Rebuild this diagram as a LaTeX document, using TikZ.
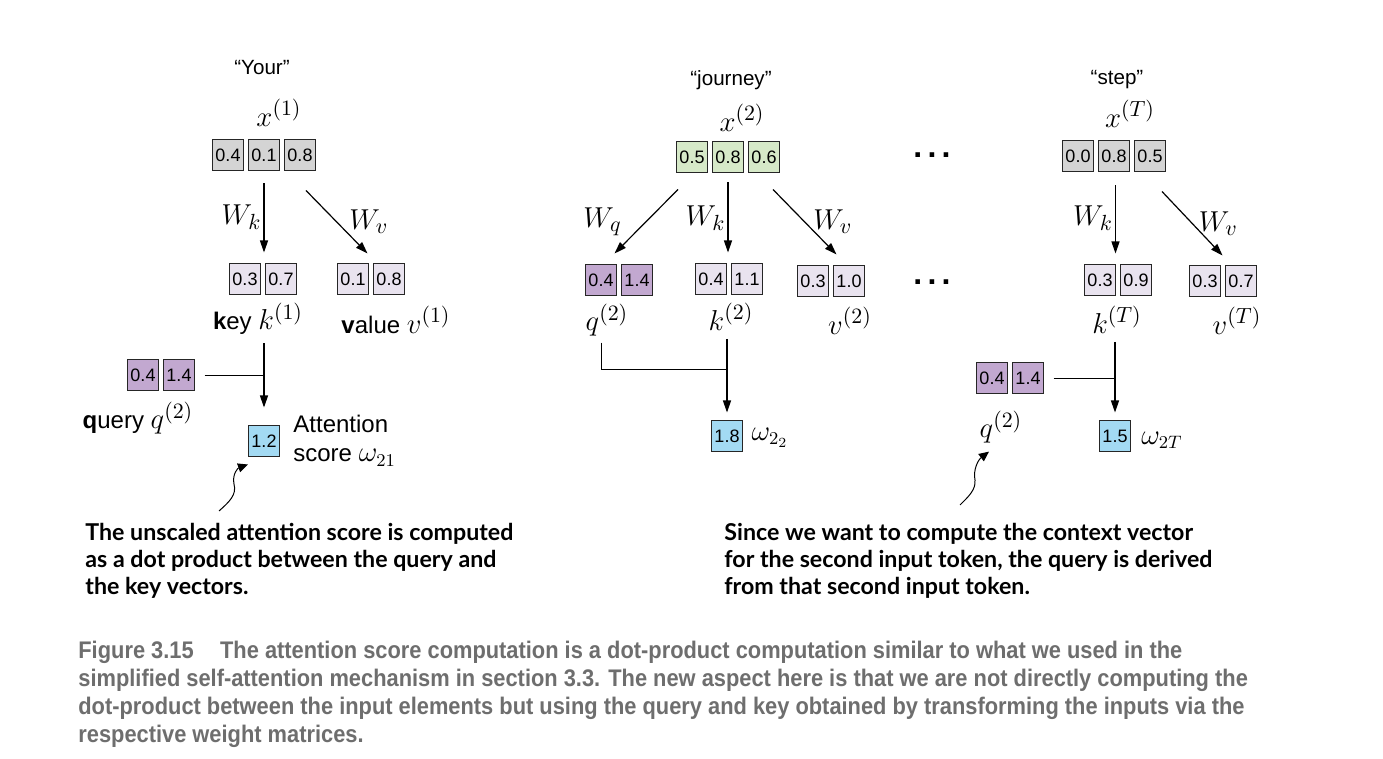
\documentclass[tikz,border=0pt]{standalone}
\usepackage{fontspec}
\setmainfont{Liberation Sans}
\newfontfamily\notefont{Lato}
\newfontfamily\capfont[FakeStretch=0.91]{Liberation Sans}
\usetikzlibrary{arrows.meta,positioning,calc}

\definecolor{cellgray}{HTML}{D4D4D4}
\definecolor{celllav}{HTML}{E9E3EF}
\definecolor{cellpurp}{HTML}{C2A8D0}
\definecolor{cellgreen}{HTML}{D6E9C8}
\definecolor{cellblue}{HTML}{A3DAF3}
\definecolor{capgray}{HTML}{6E6E6E}

\newcommand{\mlab}[1]{{\fontsize{15}{18}\selectfont$#1$}}

\begin{document}
\begin{tikzpicture}[x=0.5pt, y=-0.5pt,
    cell/.style={draw=black!85, line width=0.6pt, minimum width=15.5pt, minimum height=15.5pt, inner sep=0pt, outer sep=0pt, font=\fontsize{9}{10}\selectfont},
    inbox/.style={cell, fill=cellgray},
    wordbox/.style={cell, fill=cellgreen},
    keybox/.style={cell, fill=celllav},
    qbox/.style={cell, fill=cellpurp},
    scorebox/.style={cell, fill=cellblue},
    arr/.style={-{Triangle[length=6pt,width=4pt]}, line width=0.6pt},
    curl/.style={-{Triangle[length=5pt,width=4.5pt]}, line width=0.5pt},
    word/.style={font=\fontsize{10.3}{12}\selectfont, inner sep=0pt},
    lbl/.style={font=\fontsize{12}{14}\selectfont, inner sep=0pt},
    mlbl/.style={font=\fontsize{15}{18}\selectfont, inner sep=0pt},
    wlbl/.style={font=\fontsize{13.5}{16}\selectfont, inner sep=0pt},
    dots/.style={font=\bfseries\fontsize{16}{18}\selectfont, inner sep=0pt},
    note/.style={font=\notefont\bfseries\fontsize{11.6}{13.5}\selectfont, align=left, anchor=north west, inner sep=0pt},
    ]
\fill[white] (0,0) rectangle (1383,759);
\useasboundingbox (0,0) rectangle (1383,759);

% ---- token 1: "Your"
\node[word] (tok1) at (262,68) {“Your”};
\node[mlbl] (x1l) at (279,113) {$x^{(1)}$};
\node[inbox] (x1a) at (228,155) {0.4};
\node[inbox, right=2.5pt of x1a] (x1b) {0.1};
\node[inbox, right=2.5pt of x1b] (x1c) {0.8};
\node[keybox] (k1a) at (245,279) {0.3};
\node[keybox, right=2.5pt of k1a] (k1b) {0.7};
\node[keybox] (v1a) at (353,279) {0.1};
\node[keybox, right=2.5pt of v1a] (v1b) {0.8};
\node[lbl] (k1l) at (258,319) {\textbf{k}ey \mlab{k^{(1)}}};
\node[lbl] (v1l) at (396,320) {\textbf{v}alue \mlab{v^{(1)}}};
\node[qbox] (q1a) at (143,375) {0.4};
\node[qbox, right=2.5pt of q1a] (q1b) {1.4};
\node[lbl] (q1l) at (138,418) {\textbf{q}uery \mlab{q^{(2)}}};
\node[scorebox] (s1) at (264,441) {1.2};
\node[lbl, align=left, anchor=north west] (s1l) at (293,415) {Attention\\[0.5pt]score {\fontsize{13.5}{16}\selectfont$\omega_{21}$}};
\draw[arr, shorten <=6.5pt, shorten >=5.5pt] (x1b.south) -- (x1b.south |- k1a.north)
    node[midway, left=1pt, mlbl] (w1k) {$W_k$};
\draw[arr] ($(x1c.south)+(6,20)$) -- ($(v1a.north east)+(-1,-10)$)
    node[midway, right=6pt, mlbl] (w1v) {$W_v$};
\coordinate (j1) at (s1.north |- q1b.east);
\draw[shorten <=5pt] (q1b.east) -- (j1);
\draw[arr, shorten <=4pt, shorten >=9pt] (k1l.south -| s1.north) -- (s1.north);
\coordinate (n1) at (219,511);
\draw[curl] (n1) .. controls (229,502) and (237,495) .. (234,484)
    .. controls (232,474) and (238,468) .. ([xshift=-8pt,yshift=-4pt]s1.south);

% ---- token 2: "journey"
\node[word] (tok2) at (731,80) {“journey”};
\node[mlbl] (x2l) at (742,118) {$x^{(2)}$};
\node[wordbox] (x2a) at (692,157) {0.5};
\node[wordbox, right=2.5pt of x2a] (x2b) {0.8};
\node[wordbox, right=2.5pt of x2b] (x2c) {0.6};
\node[qbox] (q2a) at (601,280) {0.4};
\node[qbox, right=2.5pt of q2a] (q2b) {1.4};
\node[keybox] (k2a) at (711,279) {0.4};
\node[keybox, right=2.5pt of k2a] (k2b) {1.1};
\node[keybox] (v2a) at (813,281) {0.3};
\node[keybox, right=2.5pt of v2a] (v2b) {1.0};
\node[mlbl] (q2l) at (607,320) {$q^{(2)}$};
\node[mlbl] (k2l) at (731,317) {$k^{(2)}$};
\node[mlbl] (v2l) at (850,321) {$v^{(2)}$};
\node[scorebox] (s2) at (727,436) {1.8};
\node[wlbl] (s2l) at (770,438) {$\omega_{2_2}$};
\draw[arr] ($(x2a.south)+(-14,17)$) -- ($(q2a.north east)+(-2,-11)$)
    node[midway, left=12pt, mlbl] (w2q) {$W_q$};
\draw[arr, shorten <=5pt, shorten >=5.5pt] (x2b.south) -- (x2b.south |- k2a.north)
    node[midway, left=1pt, mlbl] (w2k) {$W_k$};
\draw[arr] ($(x2c.south)+(9,17)$) -- ($(v2b.north west)+(3,-11)$)
    node[midway, right=4pt, mlbl] (w2v) {$W_v$};
\coordinate (j2) at ($(s2.north)+(0,-51)$);
\draw[shorten <=3pt] (q2a.south |- q2l.south) -- (q2a.south |- j2) -- (j2);
\draw[arr, shorten <=4pt, shorten >=4pt] (k2l.south -| s2.north) -- (s2.north);

% ---- dots
\node[dots] (d1) at (932,155) {.\hspace{2.6pt}.\hspace{2.6pt}.};
\node[dots] (d2) at (932,282) {.\hspace{2.6pt}.\hspace{2.6pt}.};

% ---- token T: "step"
\node[word] (tok3) at (1117,80) {“step”};
\node[mlbl] (x3l) at (1130,114) {$x^{(T)}$};
\node[inbox] (x3a) at (1078,156) {0.0};
\node[inbox, right=2.5pt of x3a] (x3b) {0.8};
\node[inbox, right=2.5pt of x3b] (x3c) {0.5};
\node[keybox] (k3a) at (1100,280) {0.3};
\node[keybox, right=2.5pt of k3a] (k3b) {0.9};
\node[keybox] (v3a) at (1205,281) {0.3};
\node[keybox, right=2.5pt of v3a] (v3b) {0.7};
\node[mlbl] (k3l) at (1117,320) {$k^{(T)}$};
\node[mlbl] (v3l) at (1237,321) {$v^{(T)}$};
\node[qbox] (q3a) at (992,378) {0.4};
\node[qbox, right=2.5pt of q3a] (q3b) {1.4};
\node[mlbl] (q3l) at (1001,427) {$q^{(2)}$};
\node[scorebox] (s3) at (1115,436) {1.5};
\node[wlbl] (s3l) at (1162,440) {$\omega_{2T}$};
\draw[arr, shorten <=7pt, shorten >=5.5pt] (k3a.north east |- x3b.south) -- (k3a.north east)
    node[midway, left=1pt, mlbl] (w3k) {$W_k$};
\draw[arr] ($(x3c.south)+(12,20)$) -- ($(v3a.north east)+(2,-10)$)
    node[midway, right=3pt, mlbl] (w3v) {$W_v$};
\coordinate (j3) at (s3.north |- q3b.east);
\draw[shorten <=5pt] (q3b.east) -- (j3);
\draw[arr, shorten <=4pt, shorten >=4pt] (k3l.south -| s3.north) -- (s3.north);
\coordinate (n3) at (960,505);
\draw[curl] (n3) .. controls (968,497) and (976,490) .. (975,480)
    .. controls (973,470) and (978,460) .. ([xshift=-6pt,yshift=-4pt]q3l.south);

% ---- notes
\node[note] (note1) at (85,523) {The unscaled attention score is computed\\as a dot product between the query and\\the key vectors.};
\node[note] (note2) at (724,523) {Since we want to compute the context vector\\for the second input token, the query is derived\\from that second input token.};

% ---- caption
\node[font=\capfont\bfseries\fontsize{12}{14}\selectfont, text=capgray, align=left, anchor=north west, inner sep=0pt] (cap) at (78,641)
    {Figure 3.15\hspace{1.1em}The attention score computation is a dot-product computation similar to what we used in the\\
     simplified self-attention mechanism in section 3.3. The new aspect here is that we are not directly computing the\\
     dot-product between the input elements but using the query and key obtained by transforming the inputs via the\\
     respective weight matrices.};
\end{tikzpicture}
\end{document}
